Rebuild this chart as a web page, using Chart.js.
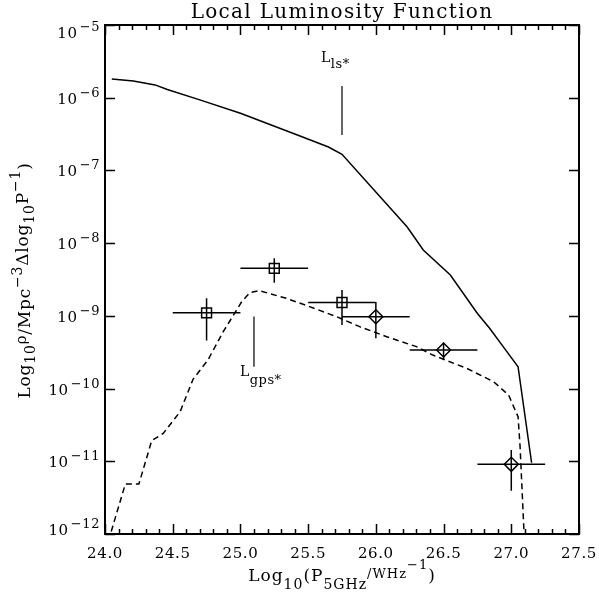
<!DOCTYPE html>
<html>
<head>
<meta charset="utf-8">
<script src="https://cdn.jsdelivr.net/npm/chart.js@4.4.1/dist/chart.umd.min.js"></script>
<style>
  html, body { margin: 0; padding: 0; background: #fff; }
  canvas { display: block; }
</style>
</head>
<body>
<canvas id="lfChart" width="599" height="592"></canvas>
<script>
// local luminosity function: log10 P(5GHz) vs space density per dex
const lsPower   = [24.05, 24.21, 24.37, 24.46, 24.70, 25.00, 25.44, 25.65, 25.75, 26.23, 26.35, 26.55, 26.75, 26.84, 26.94, 27.05, 27.15];
const lsDensity = [1.81e-6, 1.70e-6, 1.50e-6, 1.30e-6, 9.33e-7, 6.10e-7, 2.97e-7, 2.10e-7, 1.67e-7, 1.68e-8, 8.05e-9, 3.65e-9, 1.08e-9, 6.75e-10, 3.77e-10, 2.00e-10, 9.55e-12];

const gpsPower   = [24.025, 24.15, 24.25, 24.345, 24.43, 24.555, 24.65, 24.76, 24.873, 25.009, 25.07, 25.14, 25.34, 25.51, 25.71, 25.88, 26.08, 26.30, 26.42, 26.67, 26.87, 26.98, 27.05, 27.065, 27.097];
const gpsDensity = [8.0e-13, 4.86e-12, 4.86e-12, 1.92e-11, 2.42e-11, 4.81e-11, 1.34e-10, 2.47e-10, 6.05e-10, 1.56e-9, 2.09e-9, 2.22e-9, 1.74e-9, 1.34e-9, 9.73e-10, 7.10e-10, 5.16e-10, 3.77e-10, 2.89e-10, 1.90e-10, 1.24e-10, 8.15e-11, 4.10e-11, 1.58e-11, 8.0e-13];

// measured points (squares)
const sqPower     = [24.75, 25.25, 25.75];
const sqDensity   = [1.10e-9, 4.50e-9, 1.53e-9];
const sqPowerLo   = [24.50, 25.00, 25.50];
const sqPowerHi   = [25.00, 25.50, 26.00];
const sqDensityLo = [4.57e-10, 2.86e-9, 7.48e-10];
const sqDensityHi = [1.74e-9, 6.18e-9, 2.26e-9];

// measured points (diamonds)
const dmPower     = [26.00, 26.50, 27.00];
const dmDensity   = [9.73e-10, 3.39e-10, 9.08e-12];
const dmPowerLo   = [25.75, 26.25, 26.75];
const dmPowerHi   = [26.25, 26.75, 27.25];
const dmDensityLo = [4.91e-10, 2.47e-10, 3.94e-12];
const dmDensityHi = [1.55e-9, 4.27e-10, 1.43e-11];

const xTicks = [24.0, 24.5, 25.0, 25.5, 26.0, 26.5, 27.0, 27.5];
const xTickLabels = ['24.0', '24.5', '25.0', '25.5', '26.0', '26.5', '27.0', '27.5'];
const yTicks = [1e-5, 1e-6, 1e-7, 1e-8, 1e-9, 1e-10, 1e-11, 1e-12];
const yTickExps = ['\u22125', '\u22126', '\u22127', '\u22128', '\u22129', '\u221210', '\u221211', '\u221212'];

const FONT = '"DejaVu Serif", serif';

// text in pieces: [text, size, dy, extra gap]
function rich(ctx, parts, x, y, align, spacing) {
  ctx.letterSpacing = (spacing || 0) + 'px';
  let w = 0;
  parts.forEach(p => { ctx.font = p[1] + 'px ' + FONT; w += ctx.measureText(p[0]).width + (p[3] || 0); });
  let cx = align === 'right' ? x - w : align === 'center' ? x - w / 2 : x;
  ctx.textAlign = 'left';
  ctx.textBaseline = 'alphabetic';
  parts.forEach(p => {
    ctx.font = p[1] + 'px ' + FONT;
    ctx.fillText(p[0], cx, y + p[2]);
    cx += ctx.measureText(p[0]).width + (p[3] || 0);
  });
  ctx.letterSpacing = '0px';
}

const idlFrame = {
  id: 'idlFrame',
  afterDatasetsDraw(chart) {
    const { ctx, chartArea: a, scales: { x, y } } = chart;
    ctx.save();
    ctx.strokeStyle = '#000';
    ctx.fillStyle = '#000';

    // error bars
    ctx.lineWidth = 1.5;
    const bars = (P, D, PL, PH, DL, DH) => {
      P.forEach((p, i) => {
        ctx.beginPath();
        ctx.moveTo(x.getPixelForValue(PL[i]), y.getPixelForValue(D[i]));
        ctx.lineTo(x.getPixelForValue(PH[i]), y.getPixelForValue(D[i]));
        ctx.moveTo(x.getPixelForValue(p), y.getPixelForValue(DL[i]));
        ctx.lineTo(x.getPixelForValue(p), y.getPixelForValue(DH[i]));
        ctx.stroke();
      });
    };
    bars(sqPower, sqDensity, sqPowerLo, sqPowerHi, sqDensityLo, sqDensityHi);
    bars(dmPower, dmDensity, dmPowerLo, dmPowerHi, dmDensityLo, dmDensityHi);

    // L* markers
    ctx.lineWidth = 1.2;
    ctx.beginPath();
    ctx.moveTo(x.getPixelForValue(25.75), y.getPixelForValue(1.45e-6));
    ctx.lineTo(x.getPixelForValue(25.75), y.getPixelForValue(3.07e-7));
    ctx.moveTo(x.getPixelForValue(25.10), y.getPixelForValue(9.77e-10));
    ctx.lineTo(x.getPixelForValue(25.10), y.getPixelForValue(2.0e-10));
    ctx.stroke();
    rich(ctx, [['L', 14, 0], ['ls*', 13, 6]], x.getPixelForValue(25.75) - 21, y.getPixelForValue(1.45e-6) - 24, 'left', 0.5);
    rich(ctx, [['L', 14, 0], ['gps*', 13, 8]], x.getPixelForValue(25.10) - 14, y.getPixelForValue(2.0e-10) + 9, 'left', 0.5);

    // frame
    ctx.lineWidth = 2;
    ctx.strokeRect(a.left, a.top, a.right - a.left, a.bottom - a.top);

    // x ticks, inward, top and bottom
    ctx.lineWidth = 1.5;
    ctx.beginPath();
    for (let k = 0; k <= 35; k++) {
      const px = Math.round(x.getPixelForValue(24 + k * 0.1)) + 0.5;
      const len = k % 5 === 0 ? 10 : 5;
      ctx.moveTo(px, a.bottom); ctx.lineTo(px, a.bottom - len);
      ctx.moveTo(px, a.top); ctx.lineTo(px, a.top + len);
    }
    yTicks.forEach(v => {
      const py = Math.round(y.getPixelForValue(v)) + 0.5;
      ctx.moveTo(a.left, py); ctx.lineTo(a.left + 10, py);
      ctx.moveTo(a.right, py); ctx.lineTo(a.right - 10, py);
    });
    ctx.stroke();

    // tick labels
    xTicks.forEach((v, i) => rich(ctx, [[xTickLabels[i], 15, 0]], x.getPixelForValue(v), a.bottom + 24, 'center', 0.6));
    yTicks.forEach((v, i) => {
      const py = y.getPixelForValue(v);
      const base = Math.min(Math.max(py + 6, a.top + 13), a.bottom + 1);
      rich(ctx, [['10', 15, 0, 2], [yTickExps[i], 13, -7]], a.left - 5, base, 'right', 0.6);
    });

    // title
    rich(ctx, [['Local Luminosity Function', 20, 0]], (a.left + a.right) / 2, 18, 'center', 1.3);

    // x title
    rich(ctx, [['Log', 17, 0], ['10', 14, 8], ['(P', 17, 0], ['5GHz', 14, 8], ['/WHz', 13, -3], ['\u22121', 13, -12], [')', 17, 0]],
      (a.left + a.right) / 2, 581, 'center', 1);

    // y title
    ctx.translate(30, (a.top + a.bottom) / 2 + 1);
    ctx.rotate(-Math.PI / 2);
    rich(ctx, [['Log', 17, 0], ['10', 14, 5], ['\u03c1', 15, -4], ['/Mpc', 17, 0], ['\u22123', 14, -8],
      ['\u0394log', 17, -2], ['10', 14, 4], ['P', 17, -2], ['\u22121', 14, -10], [')', 17, 0]], 0, 0, 'center', 0.8);
    ctx.restore();
  }
};

const pts = (P, D) => P.map((p, i) => ({ x: p, y: D[i] }));

new Chart(document.getElementById('lfChart').getContext('2d'), {
  type: 'scatter',
  data: {
    datasets: [
      { data: pts(lsPower, lsDensity), showLine: true, borderColor: '#000', borderWidth: 1.5, pointRadius: 0 },
      { data: pts(gpsPower, gpsDensity), showLine: true, borderColor: '#000', borderWidth: 1.5, borderDash: [6, 4], pointRadius: 0 },
      { data: pts(sqPower, sqDensity), pointStyle: 'rect', pointRadius: 7, borderWidth: 1.5, borderColor: '#000', backgroundColor: 'rgba(0,0,0,0)' },
      { data: pts(dmPower, dmDensity), pointStyle: 'rectRot', pointRadius: 7, borderWidth: 1.5, borderColor: '#000', backgroundColor: 'rgba(0,0,0,0)' }
    ]
  },
  options: {
    responsive: false,
    animation: false,
    devicePixelRatio: 1,
    events: [],
    layout: { padding: { left: 105, top: 25, right: 20, bottom: 58 } },
    scales: {
      x: { type: 'linear', min: 24, max: 27.5, display: false },
      y: { type: 'logarithmic', min: 1e-12, max: 1e-5, display: false }
    },
    plugins: { legend: { display: false }, tooltip: { enabled: false } }
  },
  plugins: [idlFrame]
});
</script>
</body>
</html>
